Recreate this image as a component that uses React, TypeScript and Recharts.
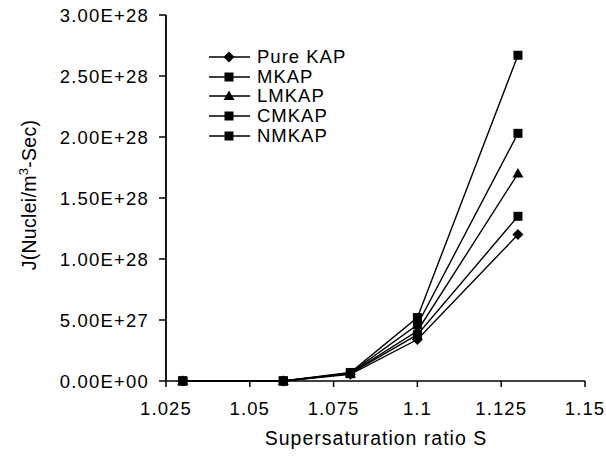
import { LineChart, Line, XAxis, YAxis, Label } from "recharts";

const supersaturation = [1.03, 1.06, 1.08, 1.1, 1.13];
const pureKap = [0, 2e24, 5.5e26, 3.4e27, 1.2e28];
const mkap = [0, 2e24, 6.0e26, 3.8e27, 1.35e28];
const lmkap = [0, 2e24, 6.2e26, 4.1e27, 1.7e28];
const cmkap = [0, 2e24, 6.5e26, 4.6e27, 2.03e28];
const nmkap = [0, 2e24, 7.0e26, 5.2e27, 2.67e28];

const xTicks = [1.025, 1.05, 1.075, 1.1, 1.125, 1.15];
const yTicks = [0, 5e27, 1e28, 1.5e28, 2e28, 2.5e28, 3e28];

type Shape = "diamond" | "square" | "triangle";

const seriesList: { key: string; name: string; values: number[]; shape: Shape }[] = [
  { key: "pure", name: "Pure KAP", values: pureKap, shape: "diamond" },
  { key: "mkap", name: "MKAP", values: mkap, shape: "square" },
  { key: "lmkap", name: "LMKAP", values: lmkap, shape: "triangle" },
  { key: "cmkap", name: "CMKAP", values: cmkap, shape: "square" },
  { key: "nmkap", name: "NMKAP", values: nmkap, shape: "square" },
];

const data = supersaturation.map((s, i) => {
  const row: Record<string, number> = { s };
  seriesList.forEach((sr) => (row[sr.key] = sr.values[i]));
  return row;
});

const font = "'Liberation Sans', Arial, sans-serif";

function sci(v: number) {
  if (v === 0) return "0.00E+00";
  const [m, e] = v.toExponential(2).split("e");
  const n = parseInt(e, 10);
  return `${m}E${n < 0 ? "-" : "+"}${String(Math.abs(n)).padStart(2, "0")}`;
}

// tick mark + label drawn together, axis offsets are zero so x/y sit on the axis
function XTick({ x, y, payload }: any) {
  return (
    <g>
      <line x1={x} y1={y} x2={x} y2={y + 6} stroke="#000" strokeWidth={1.5} />
      <text x={x} y={y + 21} dy="0.71em" textAnchor="middle" fontFamily={font} fontSize={18.5} letterSpacing={1.1} fill="#000">
        {String(payload.value)}
      </text>
    </g>
  );
}

function YTick({ x, y, payload }: any) {
  return (
    <g>
      <line x1={x - 7} y1={y} x2={x} y2={y} stroke="#000" strokeWidth={1.5} />
      <text x={x - 17} y={y} dy="0.355em" textAnchor="end" fontFamily={font} fontSize={18.5} letterSpacing={1.2} fill="#000">
        {sci(payload.value)}
      </text>
    </g>
  );
}

function Marker({ cx, cy, shape }: { cx: number; cy: number; shape: Shape }) {
  if (shape === "square") return <rect x={cx - 4.5} y={cy - 4.5} width={9} height={9} fill="#000" />;
  if (shape === "triangle")
    return <polygon points={`${cx},${cy - 5.5} ${cx + 5.5},${cy + 4} ${cx - 5.5},${cy + 4}`} fill="#000" />;
  return <polygon points={`${cx},${cy - 5.5} ${cx + 5.5},${cy} ${cx},${cy + 5.5} ${cx - 5.5},${cy}`} fill="#000" />;
}

function LegendBox() {
  return (
    <div
      style={{
        position: "absolute",
        left: 209,
        top: 47,
        fontFamily: font,
        fontSize: 18.5,
        letterSpacing: 1,
        lineHeight: "19.7px",
      }}
    >
      {seriesList.map((sr) => (
        <div key={sr.key} style={{ display: "flex", alignItems: "center", height: 19.7 }}>
          <svg width={48} height={14}>
            <line x1={0} y1={7} x2={41} y2={7} stroke="#000" strokeWidth={1.3} />
            <Marker cx={20} cy={7} shape={sr.shape} />
          </svg>
          <span>{sr.name}</span>
        </div>
      ))}
    </div>
  );
}

export default function App() {
  return (
    <div style={{ position: "absolute", left: 0, top: 0, width: 606, height: 456, background: "#fff" }}>
      <LineChart width={606} height={456} data={data} margin={{ top: 15, right: 21, left: 66, bottom: 11 }}>
        <XAxis
          dataKey="s"
          type="number"
          domain={[1.025, 1.15]}
          ticks={xTicks}
          tickSize={0}
          tickMargin={0}
          axisLine={{ stroke: "#000", strokeWidth: 1.5 }}
          tickLine={false}
          height={64}
          tick={<XTick />}
        >
          <Label
            content={() => (
              <text x={376} y={445} textAnchor="middle" fontFamily={font} fontSize={19.5} letterSpacing={1} fill="#000">
                Supersaturation ratio S
              </text>
            )}
          />
        </XAxis>
        <YAxis
          type="number"
          domain={[0, 3e28]}
          ticks={yTicks}
          width={100}
          tickSize={0}
          tickMargin={0}
          axisLine={{ stroke: "#000", strokeWidth: 1.8 }}
          tickLine={false}
          tick={<YTick />}
        >
          <Label
            content={() => (
              <text
                x={36}
                y={195}
                transform="rotate(-90 36 195)"
                textAnchor="middle"
                fontFamily={font}
                fontSize={19.5}
                letterSpacing={0.3}
                fill="#000"
              >
                J(Nuclei/m
                <tspan dy={-8} fontSize={13}>3</tspan>
                <tspan dy={8}>-Sec)</tspan>
              </text>
            )}
          />
        </YAxis>
        {seriesList.map((sr) => (
          <Line
            key={sr.key}
            dataKey={sr.key}
            name={sr.name}
            type="linear"
            stroke="#000"
            strokeWidth={1.4}
            isAnimationActive={false}
            dot={(p: any) => <Marker key={`${sr.key}-${p.index}`} cx={p.cx} cy={p.cy} shape={sr.shape} />}
            activeDot={false}
          />
        ))}
      </LineChart>
      <LegendBox />
    </div>
  );
}
